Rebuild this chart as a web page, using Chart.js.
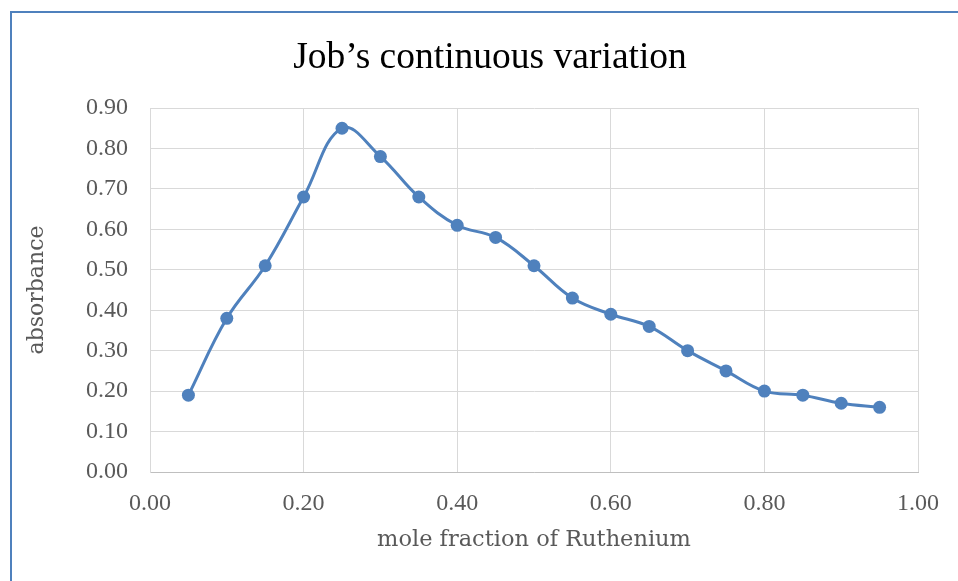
<!DOCTYPE html>
<html>
<head>
<meta charset="utf-8">
<script src="https://cdn.jsdelivr.net/npm/chart.js@4"></script>
<style>
  html, body { margin: 0; padding: 0; background: #fff; }
  .wrap { position: relative; width: 958px; height: 581px; overflow: hidden; }
  .frame { position: absolute; left: 10px; top: 11px; width: 1000px; height: 1000px;
           border-left: 2px solid #4f81bd; border-top: 2px solid #4f81bd; }
  canvas { position: absolute; left: 0; top: 0; }
</style>
</head>
<body>
<div class="wrap">
  <div class="frame"></div>
  <canvas id="chart" width="958" height="581"></canvas>
</div>
<script>
// Data
const moleFraction = [0.05, 0.10, 0.15, 0.20, 0.25, 0.30, 0.35, 0.40, 0.45, 0.50,
                      0.55, 0.60, 0.65, 0.70, 0.75, 0.80, 0.85, 0.90, 0.95];
const absorbance = [0.19, 0.38, 0.51, 0.68, 0.85, 0.78, 0.68, 0.61, 0.58, 0.51,
                    0.43, 0.39, 0.36, 0.30, 0.25, 0.20, 0.19, 0.17, 0.16];

const points = moleFraction.map((x, i) => ({ x: x, y: absorbance[i] }));

const serif = "'Liberation Serif', 'Times New Roman', serif";
const labelFont = "'DejaVu Serif', Cambria, serif";
const tickColor = '#595959';

const ctx = document.getElementById('chart').getContext('2d');
new Chart(ctx, {
    type: 'scatter',
    data: {
        datasets: [{
            data: points,
            showLine: true,
            borderColor: '#4f81bd',
            backgroundColor: '#4f81bd',
            borderWidth: 3,
            tension: 0.4,
            pointRadius: 6.5,
            pointHoverRadius: 6.5,
            pointBorderWidth: 0
        }]
    },
    options: {
        responsive: false,
        animation: false,
        layout: { padding: { left: 22, right: 0, top: 0, bottom: 0 } },
        plugins: {
            legend: { display: false },
            tooltip: { enabled: false },
            title: {
                display: true,
                text: 'Job\u2019s continuous variation',
                color: '#000',
                font: { family: serif, size: 37.5, weight: 'normal' },
                padding: { top: 35.5, bottom: 27.5 }
            }
        },
        scales: {
            x: {
                type: 'linear',
                min: 0,
                max: 1,
                afterFit: (scale) => { scale.height = 109; scale.paddingRight = 40; },
                ticks: {
                    stepSize: 0.2,
                    color: tickColor,
                    padding: 17,
                    font: { family: serif, size: 24 },
                    callback: (v) => v.toFixed(2)
                },
                grid: { color: '#d9d9d9', drawTicks: false },
                border: { color: '#bfbfbf', width: 1 },
                title: {
                    display: true,
                    text: 'mole fraction of Ruthenium',
                    color: tickColor,
                    font: { family: labelFont, size: 22.5 },
                    padding: { top: 0, bottom: 27 }
                }
            },
            y: {
                min: 0,
                max: 0.9,
                afterFit: (scale) => { scale.width = 128; },
                ticks: {
                    stepSize: 0.1,
                    color: tickColor,
                    padding: 22,
                    font: { family: serif, size: 24 },
                    callback: (v) => v.toFixed(2)
                },
                grid: { color: '#d9d9d9', drawTicks: false },
                border: { color: '#d9d9d9' },
                title: {
                    display: true,
                    text: 'absorbance',
                    color: tickColor,
                    font: { family: labelFont, size: 22 },
                    padding: { top: 2, bottom: 0 }
                }
            }
        }
    }
});
</script>
</body>
</html>
